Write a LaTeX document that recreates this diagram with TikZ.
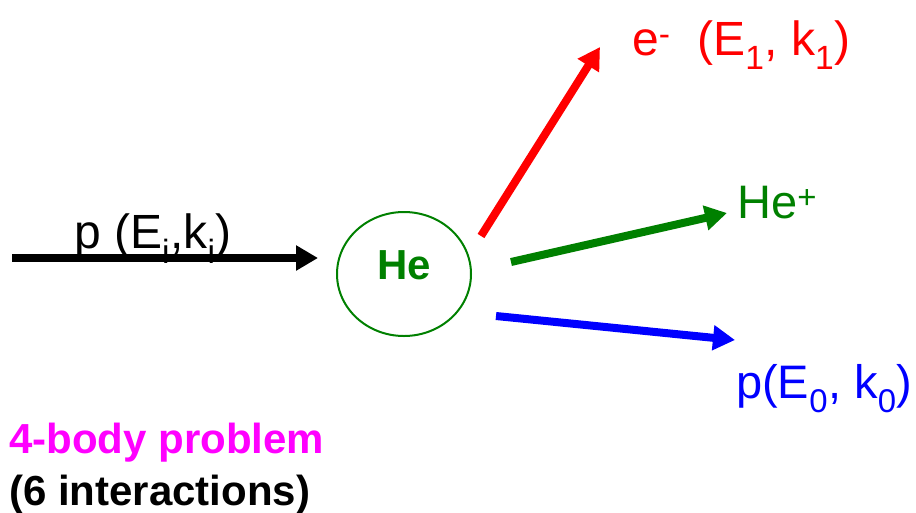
\documentclass[tikz,border=0pt]{standalone}
\usepackage{fontspec}
\setmainfont{Liberation Sans}
\usepackage{tikz}
\usetikzlibrary{arrows.meta,shapes.geometric}
\definecolor{ered}{HTML}{FF0000}
\definecolor{hegreen}{HTML}{008000}
\definecolor{pblue}{HTML}{0000FF}
\definecolor{bodymag}{HTML}{FF00FF}
\tikzset{
  beam/.style={-{Triangle[length=22pt,width=24pt]}, line width=8pt},
  atom/.style={draw=hegreen, line width=2pt, ellipse, minimum width=134pt, minimum height=124pt, inner sep=0pt},
  lbl/.style={anchor=base west, inner sep=0pt},
  bigtxt/.style={font=\fontsize{48}{54}\selectfont},
  midtxt/.style={font=\fontsize{47}{53}\selectfont},
  boldtxt/.style={font=\fontsize{42}{48}\selectfont\bfseries},
}

\begin{document}
\begin{tikzpicture}[x=1pt, y=-1pt]
  \useasboundingbox (0,0) rectangle (916,512);

  % 1. TARGET ATOM
  \node[atom, label={[text=hegreen, boldtxt, yshift=8.5pt]center:He}] (he) at (404,274) {};

  % 2. END POINTS OF THE BEAMS
  \coordinate (pin)   at (12,258);
  \coordinate (pout)  at (318,258);
  \coordinate (estart) at (481,236);
  \coordinate (eend)   at (600,47);
  \coordinate (hstart) at (511,262);
  \coordinate (hend)   at (727,213);
  \coordinate (bstart) at (496,316);
  \coordinate (bend)   at (735,340);

  % 3. LABELS
  \node[lbl, bigtxt] (pinlbl) at (74,248) {p (E\textsubscript{i},k\textsubscript{i})};
  \node[lbl, bigtxt, text=ered] (elbl) at (632,55) {e\textsuperscript{-}\ \ (E\textsubscript{1}, k\textsubscript{1})};
  \node[lbl, midtxt, text=hegreen] (hlbl) at (737,218) {He\textsuperscript{+}};
  \node[lbl, midtxt, text=pblue] (plbl) at (736,398) {p(E\textsubscript{0}, k\textsubscript{0})};

  % ==========================================
  % BEAMS IN AND OUT
  % ==========================================
  \draw[beam, draw=black] (pin) -- (pout);
  \draw[beam, draw=ered] (estart) -- (eend);
  \draw[beam, draw=hegreen] (hstart) -- (hend);
  \draw[beam, draw=pblue] (bstart) -- (bend);

  % ==========================================
  % NOTE
  % ==========================================
  \node[lbl, boldtxt, text=bodymag] (body) at (9,453) {4-body problem};
  \node[lbl, boldtxt] (inter) at (9,505) {(6 interactions)};

\end{tikzpicture}
\end{document}
